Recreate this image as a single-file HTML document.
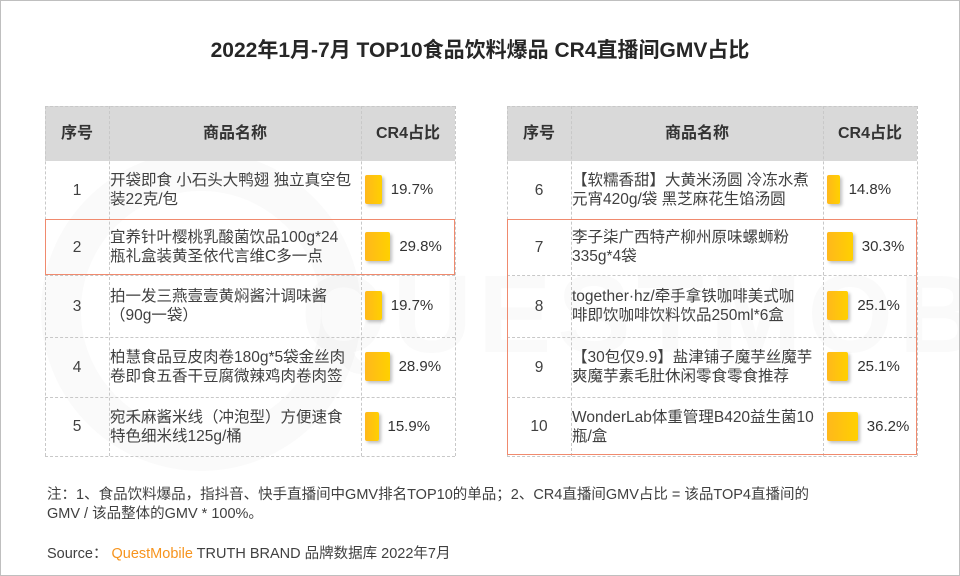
<!DOCTYPE html>
<html><head><meta charset="utf-8">
<style>
body{margin:0;background:#fff;}
#root{position:relative;width:958px;height:574px;border:1px solid #bfbfbf;overflow:hidden;font-family:"Liberation Sans","Noto Sans CJK SC",sans-serif;color:#333;}
.abs{position:absolute;}
.cell{position:absolute;display:flex;align-items:center;box-sizing:border-box;font-size:15.5px;line-height:19px;color:#404040;}
.hd{background:#d9d9d9;font-size:16px;font-weight:bold;color:#333;justify-content:center;}
.vl{position:absolute;border-left:1px dashed #c8c8c8;}
.hl{position:absolute;border-top:1px dashed #c8c8c8;}
.bar{position:absolute;height:29px;border-radius:2px;background:linear-gradient(90deg,#ffb81c,#ffd000);box-shadow:2px 2px 3px rgba(0,0,0,0.25);}
.val{position:absolute;font-size:15px;color:#333;}
</style></head><body>
<div id="root">
<div class="abs" style="left:0;width:958px;top:33px;text-align:center;font-size:21px;font-weight:bold;color:#262626;">2022年1月-7月 TOP10食品饮料爆品 CR4直播间GMV占比</div>
<div class="abs" style="left:40px;top:150px;width:320px;height:320px;border-radius:50%;border:40px solid rgba(0,0,0,0.018);box-sizing:border-box;"></div>
<div class="abs" style="left:300px;top:250px;font-size:110px;font-weight:bold;color:rgba(0,0,0,0.018);letter-spacing:6px;">QUESTMOBILE</div>
<div id="tables"></div>
<div class="abs" style="left:46px;top:485px;font-size:14.5px;line-height:19px;color:#404040;">注：1、食品饮料爆品，指抖音、快手直播间中GMV排名TOP10的单品；2、CR4直播间GMV占比 = 该品TOP4直播间的<br>GMV / 该品整体的GMV * 100%。</div>
<div class="abs" style="left:46px;top:541px;font-size:14.5px;color:#404040;">Source： <span style="color:#f7941d;">QuestMobile</span> TRUTH BRAND 品牌数据库 2022年7月</div>
</div>
<script>
const indices=["1","2","3","4","5","6","7","8","9","10"];
const names=["开袋即食 小石头大鸭翅 独立真空包<br>装22克/包","宜养针叶樱桃乳酸菌饮品100g*24<br>瓶礼盒装黄圣依代言维C多一点","拍一发三燕壹壹黄焖酱汁调味酱<br>（90g一袋）","柏慧食品豆皮肉卷180g*5袋金丝肉<br>卷即食五香干豆腐微辣鸡肉卷肉签","宛禾麻酱米线（冲泡型）方便速食<br>特色细米线125g/桶","【软糯香甜】大黄米汤圆 冷冻水煮<br>元宵420g/袋  黑芝麻花生馅汤圆","李子柒广西特产柳州原味螺蛳粉<br>335g*4袋","together·hz/牵手拿铁咖啡美式咖<br>啡即饮咖啡饮料饮品250ml*6盒","【30包仅9.9】盐津铺子魔芋丝魔芋<br>爽魔芋素毛肚休闲零食零食推荐","WonderLab体重管理B420益生菌10<br>瓶/盒"];
const shares=[19.7,29.8,19.7,28.9,15.9,14.8,30.3,25.1,25.1,36.2];
const root=document.getElementById('tables');
const rowsY=[160,218,274,336,396,455];
function barW(v){return v*0.85;}
function mk(cls,style,html){const d=document.createElement('div');d.className=cls;d.style.cssText=style;if(html!==undefined)d.innerHTML=html;root.appendChild(d);return d;}
[44,506].forEach((x0,t)=>{
  const c=[x0,x0+64,x0+316,x0+410];
  let e;
  e=mk('cell hd',`left:${c[0]}px;top:105px;width:64px;height:55px;`,'序号');
  
  
  e=mk('cell hd',`left:${c[1]}px;top:105px;width:252px;height:55px;`,'商品名称');
  
  
  e=mk('cell hd',`left:${c[2]}px;top:105px;width:94px;height:55px;`,'CR4占比');
  
  
  c.forEach(cx=>{e=mk('vl',`left:${cx}px;top:105px;height:350px;`);
    
    });
  e=mk('hl',`left:${x0}px;top:105px;width:410px;`);
  
  
  for(let r=0;r<5;r++){
    const i=t*5+r,y=rowsY[r],h=rowsY[r+1]-y;
    e=mk('hl',`left:${x0}px;top:${rowsY[r+1]}px;width:410px;`);
    
    
    e=mk('cell',`left:${c[0]}px;top:${y}px;width:64px;height:${h}px;justify-content:center;`,indices[i]);
    
    
    e=mk('cell',`left:${c[1]+1}px;top:${y}px;width:252px;height:${h}px;white-space:nowrap;`,names[i]);
    
    
    const w=barW(shares[i]),by=y+h/2-15;
    e=mk('bar',`left:${c[2]+4}px;top:${by}px;width:${w}px;`);
    
    
    e=mk('val',`left:${c[2]+4+w+9}px;top:${y+h/2-9}px;`,shares[i].toFixed(1)+'%');
    
    
  }
});
let hb=mk('abs',`left:44px;top:218px;width:410px;height:56px;border:1px solid #f08a6e;box-sizing:border-box;`);


hb=mk('abs',`left:506px;top:218px;width:410px;height:236px;border:1px solid #f08a6e;box-sizing:border-box;`);


</script>
</body></html>
